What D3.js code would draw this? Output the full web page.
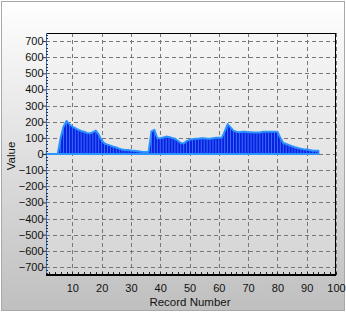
<!DOCTYPE html>
<html>
<head>
<meta charset="utf-8">
<script src="https://cdn.jsdelivr.net/npm/d3@7"></script>
<style>
  body { margin: 0; background: #fff; }
  text { font-family: "Liberation Sans", Arial, sans-serif; fill: #111; }
</style>
</head>
<body>
<div id="chart"></div>
<script>
// values per record (record 1..94)
const records = d3.range(1, 95);
const values = [
  0, 0, 0, 0, 0, 100, 170, 205, 185, 170,
  160, 150, 143, 138, 130, 128, 135, 145, 120, 85,
  65, 58, 52, 45, 40, 33, 28, 25, 25, 22,
  20, 18, 15, 12, 12, 12, 140, 150, 98, 98,
  102, 108, 105, 100, 95, 82, 68, 65, 80, 88,
  92, 95, 95, 98, 98, 95, 95, 98, 100, 100,
  100, 140, 185, 165, 145, 138, 135, 138, 138, 135,
  135, 133, 133, 133, 138, 138, 138, 138, 138, 138,
  100, 68, 62, 55, 48, 42, 37, 33, 30, 28,
  25, 20, 20, 20
];
const yTicks = d3.range(-700, 701, 100);
const xTicks = d3.range(10, 101, 10);

const W = 346, H = 312;
const margin = {top: 33, right: 10, bottom: 37, left: 46};
const width = W - margin.left - margin.right,
      height = H - margin.top - margin.bottom;

const data = records.map((r, i) => ({r: r, v: values[i]}));

const svg = d3.select("#chart").append("svg")
    .attr("width", W)
    .attr("height", H);

const defs = svg.append("defs");
const bgGrad = defs.append("linearGradient").attr("id", "bg")
    .attr("x1", 0).attr("y1", 0).attr("x2", 0).attr("y2", 1);
bgGrad.append("stop").attr("offset", "0%").attr("stop-color", "#ffffff");
bgGrad.append("stop").attr("offset", "100%").attr("stop-color", "#bfbfbf");
const plotGrad = defs.append("linearGradient").attr("id", "plotbg")
    .attr("x1", 0).attr("y1", 0).attr("x2", 0).attr("y2", 1);
plotGrad.append("stop").attr("offset", "0%").attr("stop-color", "#f6f6f6");
plotGrad.append("stop").attr("offset", "100%").attr("stop-color", "#d4d4d4");

// outer background + frame
svg.append("rect")
    .attr("x", 1.5).attr("y", 1.5)
    .attr("width", W - 3).attr("height", H - 3)
    .attr("fill", "url(#bg)")
    .attr("stroke", "#a8a8a8");

const g = svg.append("g")
    .attr("transform", "translate(" + margin.left + "," + margin.top + ")");

var x = d3.scaleLinear().domain([1, 100]).range([0, width]);
var y = d3.scaleLinear().domain([-750, 750]).range([height, 0]);

g.append("rect")
    .attr("width", width).attr("height", height)
    .attr("fill", "url(#plotbg)");

// dashed grid
g.selectAll(".gy").data(yTicks).enter().append("line")
    .attr("x1", 0).attr("x2", width)
    .attr("y1", d => Math.round(y(d)) + 0.5).attr("y2", d => Math.round(y(d)) + 0.5)
    .attr("stroke", "#777").attr("stroke-dasharray", "4,3");
g.selectAll(".gx").data(xTicks).enter().append("line")
    .attr("y1", 0).attr("y2", height)
    .attr("x1", d => Math.round(x(d)) + 0.5).attr("x2", d => Math.round(x(d)) + 0.5)
    .attr("stroke", "#777").attr("stroke-dasharray", "4,3");

// area with bars
const area = d3.area()
    .x(d => x(d.r))
    .y0(y(0))
    .y1(d => y(d.v));

g.append("path")
    .datum(data)
    .attr("d", area)
    .attr("fill", "#0a1fe0")
    .attr("stroke", "#2c96ff")
    .attr("stroke-width", 2)
    .attr("stroke-linejoin", "round");

g.selectAll(".stick").data(data.filter(d => d.v > 0)).enter().append("line")
    .attr("x1", d => x(d.r)).attr("x2", d => x(d.r))
    .attr("y1", y(0)).attr("y2", d => y(d.v))
    .attr("stroke", "#3a7cff").attr("stroke-width", 0.9);

// frame: top/right black, bottom thick black
g.append("line").attr("x1", 0).attr("x2", width).attr("y1", 0.5).attr("y2", 0.5)
    .attr("stroke", "#000");
g.append("line").attr("x1", width - 0.5).attr("x2", width - 0.5).attr("y1", 0).attr("y2", height)
    .attr("stroke", "#000");

// y axis
const yAxis = d3.axisLeft(y).tickValues(yTicks).tickSize(4).tickFormat(d3.format("d"));
const ya = g.append("g").attr("transform", "translate(0.5,0)").call(yAxis);
ya.select(".domain").attr("stroke", "#2f6fd0").attr("d", "M0,0V" + height);
ya.selectAll(".tick line").attr("stroke", "#333");
ya.selectAll(".tick text").attr("x", -3).style("font-size", "11px").attr("fill", "#111");
g.selectAll(".ymin").data(d3.range(-740, 741, 20).filter(d => d % 100 !== 0)).enter().append("line")
    .attr("x1", 0).attr("x2", 2)
    .attr("y1", d => Math.round(y(d)) + 0.5).attr("y2", d => Math.round(y(d)) + 0.5)
    .attr("stroke", "#333");

// x axis
const xAxis = d3.axisBottom(x).tickValues(xTicks).tickSize(0).tickPadding(9);
const xa = g.append("g").attr("transform", "translate(0," + height + ")").call(xAxis);
xa.select(".domain").remove();
xa.selectAll(".tick text").style("font-size", "11px").attr("fill", "#111");
g.selectAll(".xmin").data(d3.range(2, 101, 2)).enter().append("line")
    .attr("x1", d => Math.round(x(d)) + 0.5).attr("x2", d => Math.round(x(d)) + 0.5)
    .attr("y1", height - 3).attr("y2", height)
    .attr("stroke", "#222");
g.append("line").attr("x1", 0).attr("x2", width).attr("y1", height).attr("y2", height)
    .attr("stroke", "#000").attr("stroke-width", 2);

// axis titles
svg.append("text")
    .attr("x", margin.left + width / 2 - 1).attr("y", 306)
    .attr("text-anchor", "middle")
    .style("font-size", "11.5px")
    .text("Record Number");
svg.append("text")
    .attr("transform", "translate(15," + (margin.top + height / 2 + 2) + ") rotate(-90)")
    .attr("text-anchor", "middle")
    .style("font-size", "11.5px")
    .text("Value");
</script>
</body>
</html>
